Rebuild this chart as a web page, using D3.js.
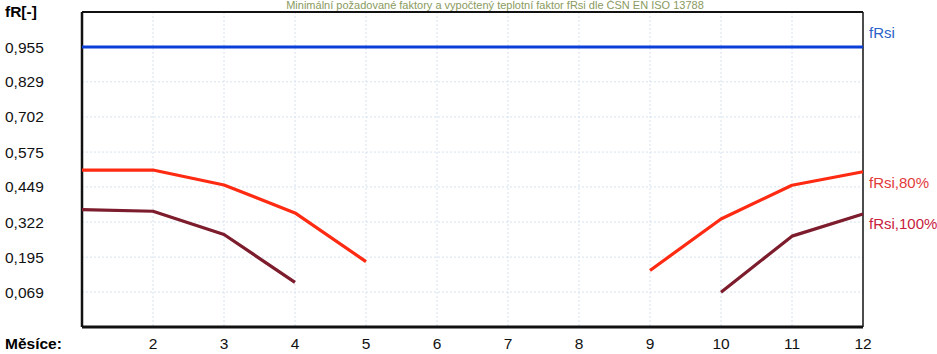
<!DOCTYPE html>
<html>
<head>
<meta charset="utf-8">
<script src="https://cdn.jsdelivr.net/npm/d3@7"></script>
<style>
  body { margin: 0; background: #fff; }
  svg text { font-family: "Liberation Sans", Arial, sans-serif; }
</style>
</head>
<body>
<main></main>
<script>
// data
const months = [1, 2, 3, 4, 5, 6, 7, 8, 9, 10, 11, 12];
const monthLabels = ["", "2", "3", "4", "5", "6", "7", "8", "9", "10", "11", "12"];
const fRsi = [0.955, 0.955, 0.955, 0.955, 0.955, 0.955, 0.955, 0.955, 0.955, 0.955, 0.955, 0.955];
const fRsi80 = [0.510, 0.510, 0.456, 0.355, 0.179, null, null, null, 0.147, 0.333, 0.455, 0.504];
const fRsi100 = [0.367, 0.361, 0.277, 0.104, null, null, null, null, null, 0.068, 0.271, 0.351];
const yTicks = [0.069, 0.195, 0.322, 0.449, 0.575, 0.702, 0.829, 0.955];
const title = "Minimální požadované faktory a vypočtený teplotní faktor fRsi dle ČSN EN ISO 13788";

const w = 937, h = 354;
const m = { left: 82, right: 74, top: 12, bottom: 27 };

const svg = d3.select('main').append('svg')
    .attr('width', w)
    .attr('height', h);

const x = d3.scaleLinear().domain([1, 12]).range([m.left, w - m.right]);
const step = (0.955 - 0.069) / 7;
const y = d3.scaleLinear().domain([0.069 - step, 0.955 + step]).range([h - m.bottom, m.top]);

// titulek
svg.append('text')
    .attr('x', 495).attr('y', 9)
    .attr('text-anchor', 'middle')
    .attr('font-size', 11)
    .attr('fill', '#8a9a60')
    .text(title);

// mrizka
svg.append('g')
    .selectAll('line')
    .data(yTicks)
    .join('line')
    .attr('x1', m.left).attr('x2', w - m.right)
    .attr('y1', d => y(d)).attr('y2', d => y(d))
    .attr('stroke', '#d6e2ee')
    .attr('stroke-dasharray', '2,2');

svg.append('g')
    .selectAll('line')
    .data(months.slice(1, 11))
    .join('line')
    .attr('x1', d => x(d)).attr('x2', d => x(d))
    .attr('y1', m.top).attr('y2', h - m.bottom)
    .attr('stroke', '#d6e2ee')
    .attr('stroke-dasharray', '2,2');

// osa y - popisky
const fmt = d3.format('.3f');
svg.append('g')
    .selectAll('text')
    .data(yTicks)
    .join('text')
    .attr('x', 5)
    .attr('y', d => y(d) + 5.5)
    .attr('font-size', 15.5)
    .attr('fill', '#111')
    .text(d => fmt(d).replace('.', ','));

svg.append('text')
    .attr('x', 5).attr('y', 17)
    .attr('font-size', 15.5).attr('font-weight', 'bold')
    .text('fR[-]');

// osa x
svg.append('g')
    .selectAll('text')
    .data(months)
    .join('text')
    .attr('x', d => x(d))
    .attr('y', h - 5)
    .attr('text-anchor', 'middle')
    .attr('font-size', 15.5)
    .attr('fill', '#111')
    .text((d, i) => monthLabels[i]);

svg.append('text')
    .attr('x', 5).attr('y', h - 5)
    .attr('font-size', 15.5).attr('font-weight', 'bold')
    .text('Měsíce:');

// ramecek
const r = svg.append('g').attr('stroke', '#111').attr('fill', 'none');
r.append('line').attr('x1', m.left).attr('x2', w - m.right).attr('y1', m.top).attr('y2', m.top).attr('stroke-width', 2);
r.append('line').attr('x1', w - m.right).attr('x2', w - m.right).attr('y1', m.top).attr('y2', h - m.bottom).attr('stroke-width', 1.5);
r.append('line').attr('x1', m.left).attr('x2', m.left).attr('y1', m.top).attr('y2', h - m.bottom).attr('stroke-width', 2.5);
r.append('line').attr('x1', m.left).attr('x2', w - m.right).attr('y1', h - m.bottom).attr('y2', h - m.bottom).attr('stroke-width', 3);

// krivky
const line = d3.line()
    .defined(d => d[1] !== null)
    .x(d => x(d[0]))
    .y(d => y(d[1]));

const series = [
    { name: 'fRsi', values: fRsi, color: '#0a3fd8', label: '#2a62c8', dy: -9 },
    { name: 'fRsi,80%', values: fRsi80, color: '#ff2a12', label: '#e23a3a', dy: 16 },
    { name: 'fRsi,100%', values: fRsi100, color: '#7c1c2c', label: '#c8203e', dy: 15 }
];

series.forEach(s => {
    svg.append('path')
        .datum(months.map((mo, i) => [mo, s.values[i]]))
        .attr('d', line)
        .attr('fill', 'none')
        .attr('stroke', s.color)
        .attr('stroke-width', 3.2)
        .attr('stroke-linejoin', 'round');

    svg.append('text')
        .attr('x', w - m.right + 6)
        .attr('y', y(s.values[11]) + s.dy)
        .attr('font-size', 15)
        .attr('fill', s.label)
        .text(s.name);
});
</script>
</body>
</html>
